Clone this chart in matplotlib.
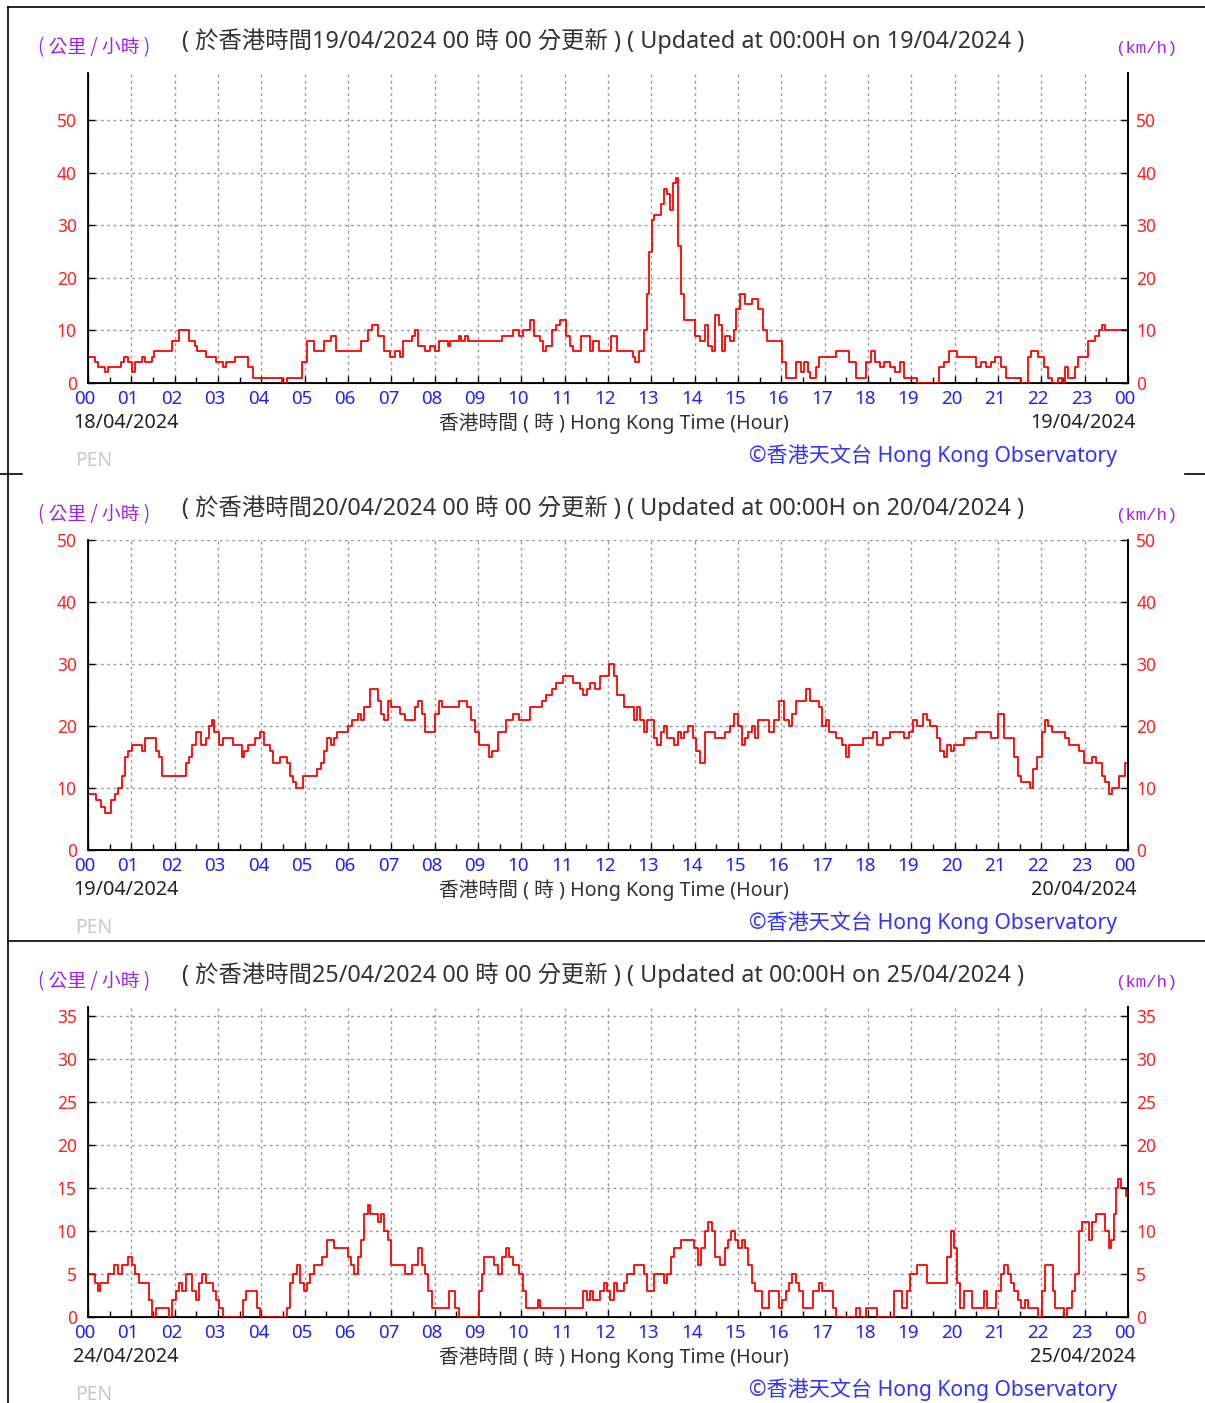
import matplotlib
matplotlib.use("Agg")
import matplotlib.pyplot as plt
from matplotlib.lines import Line2D
from matplotlib.transforms import ScaledTranslation

W, H = 1205, 1403

# ---------------- data ----------------
hours_1 = [0.00, 0.16, 0.23, 0.39, 0.47, 0.75, 0.82, 0.93, 1.01, 1.09, 1.24, 1.32, 1.48, 1.52, 1.94,
           2.10, 2.33, 2.46, 2.52, 2.72, 2.95, 3.11, 3.19, 3.39, 3.70, 3.81, 4.48, 4.59, 4.93,
           5.05, 5.21, 5.44, 5.60, 5.72, 6.30, 6.45, 6.56, 6.69, 6.84, 6.97, 7.08, 7.19, 7.28,
           7.47, 7.54, 7.62, 7.78, 7.90, 8.01, 8.09, 8.30, 8.36, 8.55, 8.60, 8.71, 8.78, 9.56,
           9.80, 9.95, 10.03, 10.19, 10.30, 10.42, 10.51, 10.58, 10.70, 10.81, 10.89, 11.04,
           11.12, 11.20, 11.38, 11.59, 11.66, 11.79, 12.07, 12.21, 12.57, 12.63, 12.72, 12.83,
           12.91, 12.95, 13.02, 13.06, 13.22, 13.30, 13.37, 13.42, 13.50, 13.56, 13.62, 13.69,
           13.76, 14.00, 14.12, 14.23, 14.31, 14.39, 14.46, 14.57, 14.62, 14.70, 14.81, 14.90,
           14.96, 15.05, 15.16, 15.32, 15.47, 15.58, 15.68, 16.02, 16.10, 16.33, 16.45, 16.52,
           16.61, 16.67, 16.80, 16.87, 17.26, 17.57, 17.73, 17.96, 18.07, 18.16, 18.27, 18.38,
           18.51, 18.63, 18.74, 18.82, 19.13, 19.63, 19.75, 19.88, 20.06, 20.50, 20.61, 20.72,
           20.84, 20.92, 21.07, 21.18, 21.54, 21.70, 21.77, 21.93, 22.05, 22.16, 22.24, 22.39,
           22.47, 22.54, 22.62, 22.77, 22.85, 23.08, 23.24, 23.32, 23.40, 23.48, 24.00]
speed_1 = [5, 4, 3, 2, 3, 4, 5, 4, 2, 4, 5, 4, 5, 6, 8,
           10, 8, 7, 6, 5, 4, 3, 4, 5, 3, 1, 0, 1, 4,
           8, 6, 8, 9, 6, 8, 10, 11, 9, 6, 5, 6, 5, 8,
           9, 10, 7, 6, 7, 6, 8, 7, 8, 9, 8, 9, 8, 9,
           10, 9, 10, 12, 9, 8, 6, 7, 10, 11, 12, 9,
           7, 6, 9, 6, 8, 6, 9, 6, 5, 4, 6, 10,
           17, 25, 31, 32, 34, 37, 36, 33, 38, 39, 26, 17,
           12, 9, 8, 11, 7, 6, 13, 11, 6, 9, 8, 10,
           14, 17, 15, 16, 14, 10, 8, 4, 1, 4, 2, 4,
           2, 1, 3, 5, 6, 4, 1, 4, 6, 4, 3, 4,
           3, 2, 4, 1, 0, 3, 4, 6, 5, 3, 4, 3,
           4, 5, 3, 1, 0, 5, 6, 5, 3, 1, 0, 1,
           0, 3, 1, 3, 5, 8, 9, 10, 11, 10, 10]

hours_2 = [0.00, 0.19, 0.31, 0.39, 0.54, 0.62, 0.70, 0.78, 0.86, 0.93, 1.01, 1.24, 1.32, 1.56, 1.63,
           1.71, 2.26, 2.33, 2.41, 2.49, 2.61, 2.72, 2.80, 2.85, 2.91, 3.03, 3.11, 3.34, 3.55,
           3.61, 3.70, 3.86, 3.97, 4.07, 4.20, 4.28, 4.43, 4.59, 4.67, 4.74, 4.79, 4.95, 5.29,
           5.37, 5.44, 5.52, 5.60, 5.68, 5.75, 5.99, 6.10, 6.22, 6.30, 6.38, 6.50, 6.69, 6.77,
           6.84, 6.92, 7.00, 7.19, 7.31, 7.54, 7.62, 7.70, 7.78, 8.01, 8.09, 8.17, 8.55, 8.74,
           8.83, 8.94, 9.02, 9.25, 9.33, 9.46, 9.64, 9.80, 9.95, 10.19, 10.47, 10.58, 10.70,
           10.81, 10.96, 11.20, 11.35, 11.43, 11.51, 11.59, 11.70, 11.82, 12.02, 12.13, 12.21,
           12.36, 12.60, 12.67, 12.75, 12.83, 12.91, 13.06, 13.14, 13.22, 13.30, 13.37, 13.53,
           13.61, 13.69, 13.76, 13.84, 13.97, 14.03, 14.12, 14.23, 14.46, 14.70, 14.81, 14.90,
           15.01, 15.09, 15.16, 15.24, 15.32, 15.40, 15.47, 15.71, 15.83, 15.94, 16.05, 16.17,
           16.25, 16.33, 16.56, 16.67, 16.87, 16.94, 17.03, 17.11, 17.26, 17.39, 17.50, 17.57,
           17.88, 18.12, 18.20, 18.35, 18.51, 18.82, 18.94, 19.05, 19.13, 19.28, 19.36, 19.44,
           19.60, 19.67, 19.75, 19.83, 19.91, 19.98, 20.22, 20.50, 20.84, 21.00, 21.15, 21.38,
           21.46, 21.54, 21.74, 21.80, 21.90, 22.01, 22.08, 22.16, 22.24, 22.55, 22.63, 22.86,
           22.99, 23.17, 23.25, 23.40, 23.48, 23.56, 23.64, 23.79, 23.92, 24.00]
speed_2 = [9, 8, 7, 6, 8, 9, 10, 12, 15, 16, 17, 16, 18, 16, 15,
           12, 14, 15, 17, 19, 17, 18, 20, 21, 19, 17, 18, 17, 15,
           16, 17, 18, 19, 17, 16, 14, 15, 14, 12, 11, 10, 12, 13,
           14, 16, 18, 17, 18, 19, 20, 21, 22, 21, 23, 26, 24, 22,
           21, 24, 23, 22, 21, 23, 24, 22, 19, 22, 24, 23, 24, 23,
           21, 19, 17, 15, 16, 19, 21, 22, 21, 23, 24, 25, 26,
           27, 28, 27, 26, 25, 26, 27, 26, 28, 30, 28, 25,
           23, 21, 23, 21, 19, 21, 18, 17, 19, 20, 18, 17,
           19, 18, 19, 20, 18, 16, 14, 19, 18, 19, 20, 22,
           20, 17, 18, 19, 20, 18, 21, 19, 21, 24, 21, 20,
           22, 24, 26, 24, 23, 20, 21, 19, 18, 17, 15, 17,
           18, 19, 17, 18, 19, 18, 19, 21, 20, 22, 21, 20,
           18, 16, 15, 17, 16, 17, 18, 19, 18, 22, 18, 15,
           12, 11, 10, 13, 15, 19, 21, 20, 19, 18, 17, 16,
           14, 15, 14, 12, 11, 9, 10, 12, 14, 14]

hours_3 = [0.00, 0.16, 0.23, 0.28, 0.47, 0.59, 0.70, 0.78, 0.93, 1.01, 1.09, 1.17, 1.40, 1.48, 1.56,
           1.87, 1.94, 2.02, 2.10, 2.18, 2.26, 2.41, 2.49, 2.57, 2.64, 2.72, 2.88, 2.95, 3.03,
           3.11, 3.58, 3.65, 3.89, 3.97, 4.59, 4.67, 4.74, 4.82, 4.90, 4.98, 5.05, 5.13, 5.21,
           5.41, 5.52, 5.68, 6.00, 6.07, 6.14, 6.22, 6.30, 6.38, 6.45, 6.50, 6.69, 6.77, 6.84,
           6.92, 7.00, 7.31, 7.47, 7.62, 7.70, 7.78, 7.85, 7.93, 8.32, 8.48, 8.55, 9.02, 9.10,
           9.14, 9.36, 9.46, 9.56, 9.64, 9.72, 9.80, 9.95, 10.03, 10.11, 10.39, 10.42, 11.43,
           11.51, 11.59, 11.66, 11.82, 11.90, 11.98, 12.05, 12.13, 12.21, 12.36, 12.44, 12.60,
           12.83, 12.91, 13.06, 13.30, 13.37, 13.45, 13.53, 13.69, 13.99, 14.07, 14.15, 14.23,
           14.31, 14.39, 14.46, 14.59, 14.70, 14.77, 14.85, 14.93, 15.01, 15.09, 15.16, 15.24,
           15.32, 15.40, 15.55, 15.71, 15.94, 16.02, 16.10, 16.17, 16.25, 16.33, 16.41, 16.49,
           16.72, 16.87, 16.95, 17.19, 17.26, 17.73, 17.81, 17.96, 18.20, 18.59, 18.79, 18.90,
           18.97, 19.13, 19.36, 19.83, 19.91, 19.98, 20.06, 20.13, 20.22, 20.40, 20.68, 20.75,
           20.96, 21.07, 21.15, 21.23, 21.31, 21.38, 21.46, 21.54, 21.62, 21.70, 21.93, 22.01,
           22.08, 22.27, 22.32, 22.52, 22.60, 22.71, 22.78, 22.86, 22.94, 23.01, 23.09, 23.17,
           23.25, 23.48, 23.56, 23.61, 23.67, 23.72, 23.76, 23.83, 23.96, 24.00]
speed_3 = [5, 4, 3, 4, 5, 6, 5, 6, 7, 6, 5, 4, 2, 0, 1,
           0, 2, 3, 4, 3, 5, 3, 2, 4, 5, 4, 3, 2, 1,
           0, 2, 3, 1, 0, 1, 4, 5, 6, 4, 3, 4, 5, 6,
           7, 9, 8, 7, 6, 5, 7, 9, 12, 13, 12, 11, 12, 10,
           9, 6, 5, 6, 8, 6, 5, 3, 1, 3, 1, 0, 3, 5,
           7, 6, 5, 7, 8, 7, 6, 5, 3, 1, 2, 1, 3,
           2, 3, 2, 3, 4, 3, 2, 4, 3, 4, 5, 6,
           5, 3, 5, 4, 5, 7, 8, 9, 8, 6, 8, 10,
           11, 10, 7, 6, 8, 9, 10, 9, 8, 9, 8, 6,
           4, 3, 1, 3, 1, 2, 3, 4, 5, 4, 3, 1,
           3, 4, 3, 1, 0, 1, 0, 1, 0, 3, 1, 3,
           5, 6, 4, 7, 10, 8, 4, 1, 3, 1, 3, 1,
           3, 5, 6, 5, 4, 3, 2, 1, 2, 1, 0, 3,
           6, 3, 1, 0, 1, 3, 5, 10, 11, 11, 9, 11,
           12, 10, 8, 9, 12, 15, 16, 15, 14, 14]

hour_labels = ["00", "01", "02", "03", "04", "05", "06", "07", "08", "09", "10", "11", "12",
               "13", "14", "15", "16", "17", "18", "19", "20", "21", "22", "23", "00"]
start_dates = ["18/04/2024", "19/04/2024", "24/04/2024"]
end_dates = ["19/04/2024", "20/04/2024", "25/04/2024"]
y_ticks_1 = [0, 10, 20, 30, 40, 50]
y_ticks_2 = [0, 10, 20, 30, 40, 50]
y_ticks_3 = [0, 5, 10, 15, 20, 25, 30, 35]
y_max = [59, 50, 36]

# ---------------- figure ----------------
fig = plt.figure(figsize=(W / 100, H / 100), dpi=100)
fig.patch.set_facecolor("white")

SANS = ["Noto Sans", "Noto Sans CJK TC", "DejaVu Sans"]
CJK = ["Noto Sans CJK TC", "DejaVu Sans"]
RED = "#ff2020"
BLUE = "#2020ff"

def fx(x):
    return x / W

def fy(y):
    return 1 - y / H

# outer frame lines
fig.add_artist(Line2D([fx(8), fx(8)], [fy(7), fy(1403)], color="black", lw=1.2))
fig.add_artist(Line2D([fx(8), fx(1205)], [fy(7), fy(7)], color="black", lw=1.2))
fig.add_artist(Line2D([fx(8), fx(1205)], [fy(941), fy(941)], color="black", lw=1.2))
fig.add_artist(Line2D([fx(0), fx(22)], [fy(474), fy(474)], color="black", lw=1.2))
fig.add_artist(Line2D([fx(1185), fx(1205)], [fy(474), fy(474)], color="black", lw=1.2))

panels = [(hours_1, speed_1, y_ticks_1), (hours_2, speed_2, y_ticks_2), (hours_3, speed_3, y_ticks_3)]
offset = 467
xshift = ScaledTranslation(-3 / 100, 0, fig.dpi_scale_trans)

for i, (hrs, spd, yt) in enumerate(panels):
    oy = i * offset
    top = 73 + oy
    bot = 383 + oy
    ax = fig.add_axes([fx(88), fy(bot), 1040 / W, (bot - top) / H])
    ax.plot(hrs, spd, drawstyle="steps-post", color="#ff0000", lw=1.3, zorder=3)
    ax.set_xlim(0, 24)
    ax.set_ylim(0, y_max[i])
    ax.set_xticks(range(25))
    ax.set_xticklabels(hour_labels)
    ax.set_xticks([h + 0.5 for h in range(24)], minor=True)
    ax.set_yticks(yt)
    ax.spines["top"].set_visible(False)
    for s in ["left", "right", "bottom"]:
        ax.spines[s].set_linewidth(1.3)
        ax.spines[s].set_color("black")
    ax.tick_params(axis="x", which="major", direction="in", length=5, width=1,
                   labelcolor=BLUE, labelsize=13.5, pad=5)
    ax.tick_params(axis="x", which="minor", direction="in", length=4, width=1)
    ax.tick_params(axis="y", which="major", direction="in", length=5, width=1,
                   labelcolor=RED, labelsize=12.5, left=True, right=False,
                   labelleft=True, labelright=False, pad=8)
    for lab in ax.get_xticklabels() + ax.get_yticklabels():
        lab.set_family(SANS)
    for t in ax.xaxis.get_major_ticks():
        t.label1.set_transform(t.label1.get_transform() + xshift)
    ax.grid(True, which="major", color="#9a9a9a", linestyle=(0, (2, 2.5)), lw=1)
    ax.set_axisbelow(True)

    # right-hand axis labels (closer to the spine than the left ones)
    ax2 = ax.twinx()
    ax2.set_ylim(0, y_max[i])
    ax2.set_yticks(yt)
    ax2.spines["top"].set_visible(False)
    ax2.spines["right"].set_linewidth(1.3)
    ax2.tick_params(axis="y", direction="in", length=5, width=1, labelcolor=RED,
                    labelsize=12.5, pad=6)
    for lab in ax2.get_yticklabels():
        lab.set_family(SANS)

    # title and unit labels
    dt = end_dates[i]
    fig.text(fx(603), fy(41 + oy),
             f"( 於香港時間{dt} 00 時 00 分更新 ) ( Updated at 00:00H on {dt} )",
             ha="center", va="center", fontsize=16.8, color="#333333", family=SANS)
    fig.text(fx(38), fy(48 + oy), "( 公里 / 小時 )", ha="left", va="center",
             fontsize=13.5, color="#a020f0", family=CJK)
    fig.text(fx(1177), fy(48 + oy), "(km/h)", ha="right", va="center",
             fontsize=12.5, color="#a020f0", family=["Liberation Mono", "DejaVu Sans Mono"])

    # bottom labels
    fig.text(fx(73), fy(423 + oy), start_dates[i], ha="left", va="center",
             fontsize=14.3, color="#222222", family=SANS)
    fig.text(fx(1136), fy(423 + oy), end_dates[i], ha="right", va="center",
             fontsize=14.3, color="#222222", family=SANS)
    fig.text(fx(614), fy(423 + oy), "香港時間 ( 時 ) Hong Kong Time (Hour)", ha="center",
             va="center", fontsize=14.2, color="#333333", family=SANS)
    fig.text(fx(75), fy(461 + oy), "PEN", ha="left", va="center", fontsize=14,
             color="#c8c8c8", family=SANS)
    fig.text(fx(1117), fy(456 + oy), "©香港天文台 Hong Kong Observatory", ha="right",
             va="center", fontsize=15.2, color="#3333ff", family=SANS)

fig.savefig("out.png", dpi=100, facecolor="white")
